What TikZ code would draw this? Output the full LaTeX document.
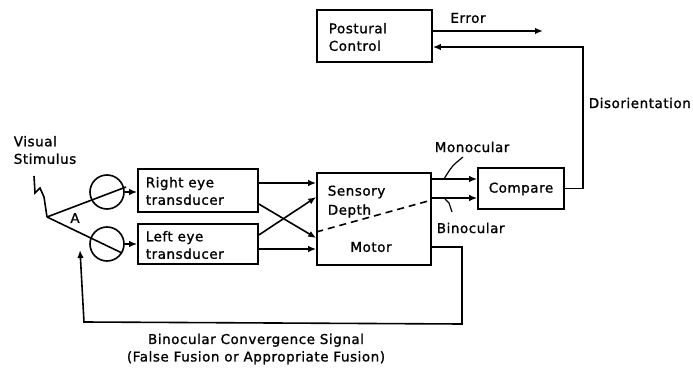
\documentclass[tikz,border=0pt]{standalone}
\usepackage{fontspec}
\setmainfont{DejaVu Sans}[LetterSpace=4,FakeBold=1.2]
\usetikzlibrary{arrows.meta}
\begin{document}
\begin{tikzpicture}[x=1pt,y=-1pt,line width=1.6pt,
  box/.style={draw,rectangle,minimum width=#1,inner sep=0pt},
  lbl/.style={font=\fontsize{13.5}{17.5}\selectfont,inner sep=0pt},
  arr/.style={-{Latex[length=8pt,width=6.5pt]}},
  eye/.style={draw,circle,minimum size=34pt,inner sep=0pt}]
\useasboundingbox (0,0) rectangle (693,371);
% boxes
\node[box=115pt,minimum height=52pt] (post) at (374.5,36) {};
\node[box=120pt,minimum height=43pt] (reye) at (198,190.5) {};
\node[box=120pt,minimum height=40pt] (leye) at (198,244) {};
\node[box=114pt,minimum height=92pt] (sm) at (374,219) {};
\node[box=86pt,minimum height=41pt] (cmp) at (521,188.5) {};
% box texts
\node[lbl,anchor=west,align=left] (posttxt) at (328,37) {Postural\\Control};
\node[lbl,anchor=west,align=left] (reyetxt) at (145,191) {Right eye\\transducer};
\node[lbl,anchor=west,align=left] (leyetxt) at (145,245) {Left eye\\transducer};
\node[lbl,anchor=west] (sens) at (327,192) {Sensory};
\node[lbl,anchor=west] (depth) at (327,211) {Depth};
\node[lbl] (motor) at (371,247) {Motor};
\node[lbl] (cmptxt) at (521,189) {Compare};
% labels
\node[lbl] (err) at (468,18) {Error};
\node[lbl,anchor=west] (dis) at (588,103) {Disorientation};
\node[lbl,anchor=west] (mono) at (434,147) {Monocular};
\node[lbl,anchor=west] (bino) at (436,228) {Binocular};
\node[lbl,anchor=west,align=left] (vis) at (13,150) {Visual\\Stimulus};
\node[lbl] (A) at (75,218) {A};
\node[lbl,align=center] (conv) at (256,349) {Binocular Convergence Signal\\(False Fusion or Appropriate Fusion)};
% eyes
\node[eye] (re) at (107,192) {};
\node[eye] (le) at (107,244) {};
\coordinate (vx) at (47,217);
\draw (34,176) -- (35,193) -- (40,188) -- (44,197) -- (vx);
\draw (vx) -- (126,187);
\draw (vx) -- (122,253);
\draw[arr] (re.east) -- (reye.west |- re.east);
\draw[arr] (le.east) -- (leye.west |- le.east);
% crossing
\draw[arr] (reye.east |- 0,183) -- (sm.west |- 0,183);
\draw[arr] (reye.east |- 0,204) -- (sm.west |- 0,238);
\draw[arr] (leye.east |- 0,235) -- (sm.west |- 0,197);
\draw[arr] (leye.east |- 0,249) -- (sm.west |- 0,249);
\draw[dashed,dash pattern=on 7pt off 5pt] (sm.west |- 0,232) -- (sm.east |- 0,200);
% to compare
\draw[arr] (sm.east |- 0,179) -- (cmp.west |- 0,179);
\draw[arr] (sm.east |- 0,198) -- (cmp.west |- 0,198);
\draw[line width=1.2pt] (463,157) .. controls (452,166) .. (444,179);
\draw[line width=1.2pt] (445,199) -- (449,203) -- (452,212);
% feedback
\coordinate (dtop) at (583,47);
\draw[arr] (cmp.east) -| (dtop) -- (post.east |- dtop);
\coordinate (etip) at (543,31);
\draw[arr] (post.east |- etip) -- (etip);
% convergence loop
\coordinate (ltip) at (80,250);
\draw[arr] (sm.east |- 0,247) -- (462,247) -- (462,324) -- (84,322) -- (ltip);
\end{tikzpicture}
\end{document}
